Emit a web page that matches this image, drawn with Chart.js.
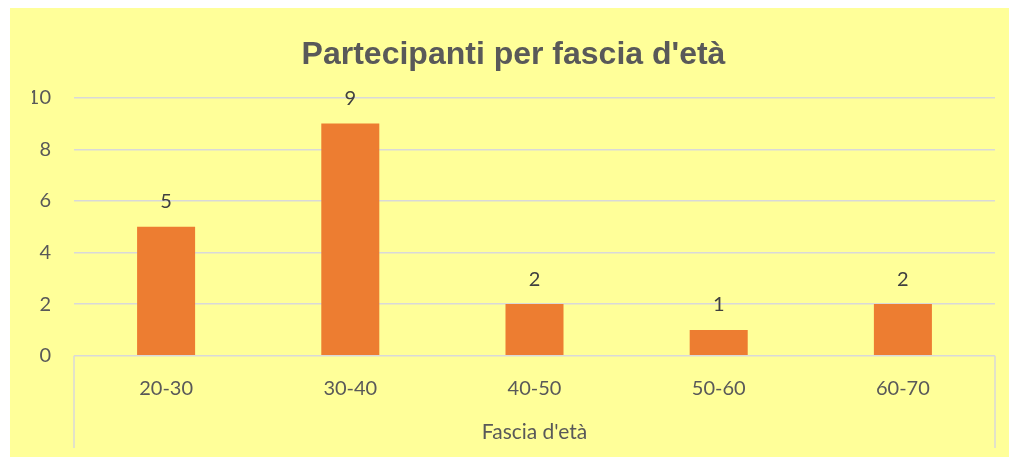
<!DOCTYPE html>
<html>
<head>
<meta charset="utf-8">
<script src="https://cdn.jsdelivr.net/npm/chart.js@4.4.1/dist/chart.umd.min.js"></script>
<style>
html,body{margin:0;padding:0;background:#ffffff;}
#wrap{width:1009px;height:458px;position:relative;}
</style>
</head>
<body>
<div id="wrap"><canvas id="c"></canvas></div>
<script>
const categories = ['20-30', '30-40', '40-50', '50-60', '60-70'];
const values = [5, 9, 2, 1, 2];
const chartTitle = "Partecipanti per fascia d'età";
const xAxisTitle = "Fascia d'età";
const yMin = 0, yMax = 10, yStep = 2;

const labelFont = "Lato, 'Open Sans', sans-serif";

const bgPlugin = {
  id: 'bg',
  beforeDraw(chart) {
    const ctx = chart.ctx;
    ctx.save();
    ctx.fillStyle = '#FFFF99';
    ctx.fillRect(10, 8, chart.width - 10, 449);
    ctx.restore();
  },
  afterDraw(chart) {
    const ctx = chart.ctx;
    const a = chart.chartArea;
    ctx.save();
    ctx.strokeStyle = '#D9D9D9';
    ctx.lineWidth = 1.5;
    ctx.beginPath();
    ctx.moveTo(a.left, a.bottom);
    ctx.lineTo(a.left, 448);
    ctx.moveTo(a.right, a.bottom);
    ctx.lineTo(a.right, 448);
    ctx.stroke();
    ctx.restore();
  }
};

const dataLabelPlugin = {
  id: 'dlabels',
  afterDatasetsDraw(chart) {
    const ctx = chart.ctx;
    const meta = chart.getDatasetMeta(0);
    ctx.save();
    ctx.fillStyle = '#404040';
    ctx.font = "20px " + labelFont;
    ctx.textAlign = 'center';
    ctx.textBaseline = 'middle';
    meta.data.forEach((bar, i) => {
      ctx.fillText(String(values[i]), bar.x, bar.y - 25);
    });
    ctx.restore();
  }
};

new Chart(document.getElementById('c'), {
  type: 'bar',
  data: {
    labels: categories,
    datasets: [{
      data: values,
      backgroundColor: '#ED7D31',
      borderWidth: 0,
      barPercentage: 0.315,
      categoryPercentage: 1
    }]
  },
  options: {
    responsive: true,
    maintainAspectRatio: false,
    animation: false,
    layout: { padding: { left: 32, right: 14, top: 0, bottom: 0 } },
    plugins: {
      legend: { display: false },
      tooltip: { enabled: false },
      title: {
        display: true,
        text: chartTitle,
        color: '#595959',
        font: { family: "'Liberation Sans', Arial, sans-serif", size: 32, weight: 'bold', lineHeight: 1.2 },
        padding: { top: 35.8, bottom: 23.5 }
      }
    },
    scales: {
      x: {
        grid: { display: false },
        border: { display: false },
        ticks: { color: '#595959', font: { family: labelFont, size: 20 }, padding: 13, maxRotation: 0 },
        title: {
          display: true,
          text: xAxisTitle,
          color: '#595959',
          font: { family: labelFont, size: 21, lineHeight: 1.2 },
          padding: { top: 0, bottom: 13 }
        },
        afterFit(scale) { scale.height = 102.3; }
      },
      y: {
        min: yMin,
        max: yMax,
        ticks: { stepSize: yStep, color: '#595959', font: { family: labelFont, size: 20 }, padding: 23 },
        grid: { color: '#D9D9D9', lineWidth: 1.5, drawTicks: false },
        border: { display: false },
        afterFit(scale) { scale.width = 42; }
      }
    }
  },
  plugins: [bgPlugin, dataLabelPlugin]
});
</script>
</body>
</html>
